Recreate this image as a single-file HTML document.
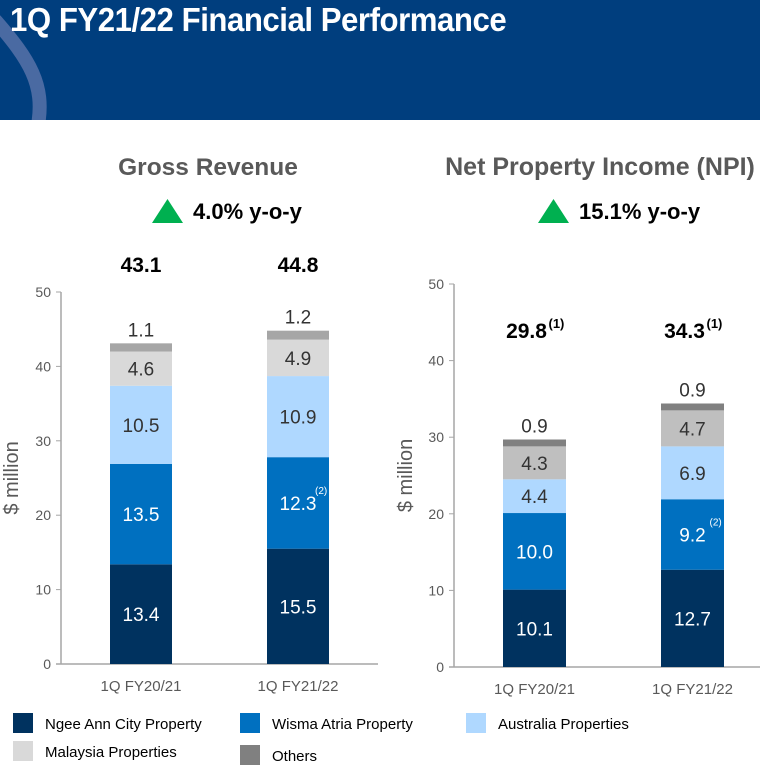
<!DOCTYPE html>
<html><head><meta charset="utf-8">
<style>
body{margin:0;width:760px;height:770px;background:#fff;overflow:hidden;font-family:"Liberation Sans",sans-serif}
#hdr{position:absolute;left:0;top:0;width:760px;height:120px;background:#003e7e;overflow:hidden}
#title{position:absolute;left:10px;top:1px;color:#fff;font-weight:bold;font-size:33px;letter-spacing:-0.5px;transform:scaleX(0.945);transform-origin:left top;white-space:nowrap}
svg{position:absolute;left:0;top:0}
</style></head><body>
<div id="hdr">
<svg width="760" height="120"><path d="M-5,20 C30,60 45,85 38,125" fill="none" stroke="#4a6aa2" stroke-width="14"/></svg>
<div id="title">1Q FY21/22 Financial Performance</div>
</div>
<svg id="c" width="760" height="770"></svg>
<script>
const categories=["1Q FY20/21","1Q FY21/22"];
const seriesNames=["Ngee Ann City Property","Wisma Atria Property","Australia Properties","Malaysia Properties","Others"];
const revNgee=[13.4,15.5],revWisma=[13.5,12.3],revAus=[10.5,10.9],revMal=[4.6,4.9],revOth=[1.1,1.2];
const revTotals=["43.1","44.8"];
const npiNgee=[10.1,12.7],npiWisma=[10.0,9.2],npiAus=[4.4,6.9],npiMal=[4.3,4.7],npiOth=[0.9,0.9];
const npiTotals=["29.8","34.3"];
const yTicks=[0,10,20,30,40,50];
const NS="http://www.w3.org/2000/svg";
const svg=document.getElementById('c');
function mk(t,a,p){const e=document.createElementNS(NS,t);for(const k in a)e.setAttribute(k,a[k]);(p||svg).appendChild(e);return e;}
function txt(x,y,s,a,name){const e=mk('text',Object.assign({x:x,y:y},a));e.textContent=s;return e;}
function chart(cfg){
  const y=v=>cfg.y0-(v/50)*(cfg.y0-cfg.y50);
  mk('line',{x1:cfg.ax,y1:cfg.y50,x2:cfg.ax,y2:cfg.y0,stroke:'#a6a6a6','stroke-width':1.5});
  mk('line',{x1:cfg.ax-5,y1:cfg.y0,x2:cfg.axEnd,y2:cfg.y0,stroke:'#a6a6a6','stroke-width':1.5});
  yTicks.forEach(t=>{mk('line',{x1:cfg.ax-5,y1:y(t),x2:cfg.ax,y2:y(t),stroke:'#a6a6a6'});
    txt(cfg.ax-10,y(t)+5,String(t),{'text-anchor':'end','font-size':14,fill:'#595959'},'y-tick-label');});
  txt(0,0,'$ million',{'font-size':20,fill:'#595959','text-anchor':'middle',transform:`translate(${cfg.ylx},${y(25)}) rotate(-90)`},'y-axis-title');
  const series=cfg.series;
  categories.forEach((c,i)=>{
    const x=cfg.bx[i];let acc=0;
    series.forEach((s,j)=>{
      const v=s[i];const r=mk('rect',{x:x,y:y(acc+v),width:cfg.bw,height:y(acc)-y(acc+v),fill:cfg.colors[j]});
      
      const cx=x+cfg.bw/2;
      if(j<4){txt(cx,(y(acc)+y(acc+v))/2+7,v.toFixed(1),{'text-anchor':'middle','font-size':19,fill:j<2?'#fff':'#333'},'bar-value-label');
        if(j==1&&i==1){txt(cx+17,(y(acc)+y(acc+v))/2-9,'(2)',{'font-size':10,fill:'#fff'},'footnote-marker');}}
      else txt(cx,y(acc+v)-7,v.toFixed(1),{'text-anchor':'middle','font-size':19,fill:'#333'},'bar-value-label');
      acc+=v;
    });
    txt(x+cfg.bw/2,cfg.y0+27,c,{'text-anchor':'middle','font-size':15,fill:'#595959'},'x-tick-label');
    txt(x+cfg.bw/2+cfg.totOff,cfg.totY,cfg.totals[i],{'text-anchor':'middle','font-size':21,'font-weight':'bold',fill:'#000'},'total-label');
    if(cfg.sup){txt(x+cfg.bw/2+cfg.totOff+22,cfg.totY-10,'(1)',{'font-size':13,'font-weight':'bold',fill:'#000'},'footnote-marker');}
  });
  txt(cfg.titleX,175,cfg.title,{'text-anchor':'middle','font-size':cfg.tfs,'font-weight':'bold',fill:'#595959'},'chart-title');
  mk('polygon',{points:`${cfg.triX},${cfg.triY+12} ${cfg.triX+31},${cfg.triY+12} ${cfg.triX+15.5},${cfg.triY-12}`,fill:'#00b050'});
  txt(cfg.triX+41,cfg.triY+8,cfg.growth,{'font-size':22,'font-weight':'bold',fill:'#000'},'growth-label');
}
chart({ax:61,axEnd:378,y0:664,y50:292,bx:[110,267],bw:62,ylx:18,series:[revNgee,revWisma,revAus,revMal,revOth],totals:revTotals,totOff:0,totY:272,sup:false,
 colors:['#00325f','#0070c0','#afd8ff','#d9d9d9','#a6a6a6'],title:'Gross Revenue',titleX:208,tfs:24.5,triX:152,triY:211,growth:'4.0% y-o-y'});
chart({ax:454,axEnd:760,y0:667,y50:284,bx:[503,661],bw:63,ylx:412,series:[npiNgee,npiWisma,npiAus,npiMal,npiOth],totals:npiTotals,totOff:-8,totY:338,sup:true,
 colors:['#00325f','#0070c0','#afd8ff','#bfbfbf','#808080'],title:'Net Property Income (NPI)',titleX:600,tfs:25,triX:538,triY:211,growth:'15.1% y-o-y'});
const leg=[[13,713,0,'#00325f'],[240,713,1,'#0070c0'],[466,713,2,'#afd8ff'],[13,741,3,'#d9d9d9'],[240,745,4,'#808080']];
leg.forEach(l=>{const r=mk('rect',{x:l[0],y:l[1],width:20,height:20,fill:l[3]});
  
  txt(l[0]+32,l[1]+16,seriesNames[l[2]],{'font-size':15,fill:'#000'},'legend-entry');});
</script>
</body></html>
